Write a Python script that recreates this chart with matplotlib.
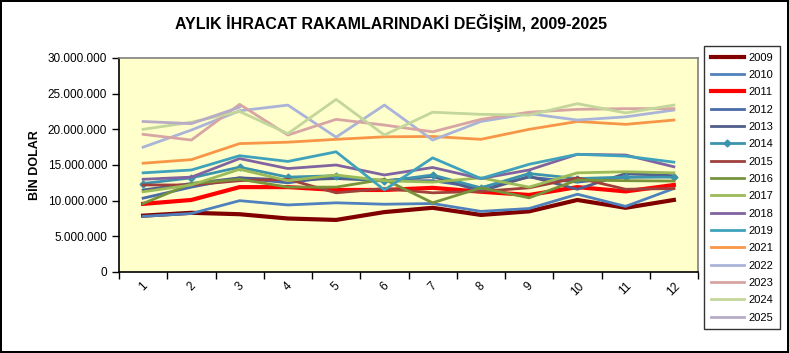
import matplotlib
matplotlib.use("Agg")
import matplotlib.pyplot as plt
from matplotlib.ticker import FuncFormatter, FixedLocator

plt.rcParams['font.family'] = ['Liberation Sans', 'DejaVu Sans']

months = list(range(1, 13))
month_labels = [str(m) for m in months]

y2009 = [7.9, 8.3, 8.1, 7.5, 7.3, 8.4, 9.0, 8.0, 8.5, 10.1, 9.0, 10.1]
y2010 = [7.8, 8.2, 10.0, 9.4, 9.7, 9.5, 9.6, 8.5, 8.9, 10.9, 9.2, 11.7]
y2011 = [9.55, 10.1, 11.9, 11.9, 11.5, 11.5, 11.8, 11.25, 10.8, 11.9, 11.3, 12.2]
y2012 = [10.35, 11.9, 13.2, 12.5, 13.4, 12.8, 12.8, 11.8, 13.3, 12.6, 13.3, 13.4]
y2013 = [11.5, 12.4, 13.2, 12.9, 13.1, 12.8, 13.4, 11.3, 13.4, 11.6, 13.8, 13.5]
y2014 = [12.4, 13.2, 14.7, 13.3, 13.5, 12.7, 13.6, 11.8, 13.8, 13.1, 13.3, 13.3]
y2015 = [12.2, 12.2, 12.8, 13.0, 11.1, 11.7, 11.1, 11.3, 11.8, 13.2, 11.6, 11.7]
y2016 = [9.6, 12.4, 13.0, 11.9, 11.9, 13.0, 9.7, 11.8, 10.4, 12.9, 12.8, 12.75]
y2017 = [11.25, 12.2, 14.4, 12.8, 13.6, 12.8, 12.6, 13.2, 11.9, 13.9, 14.05, 13.9]
y2018 = [13.0, 13.3, 15.9, 14.5, 15.0, 13.6, 14.65, 13.1, 14.3, 16.5, 16.4, 14.75]
y2019 = [13.9, 14.3, 16.3, 15.5, 16.85, 11.5, 16.0, 13.1, 15.1, 16.5, 16.25, 15.4]
y2021 = [15.25, 15.75, 18.0, 18.2, 18.6, 18.95, 19.0, 18.6, 20.0, 21.1, 20.7, 21.3]
y2022 = [17.5, 19.9, 22.6, 23.4, 18.9, 23.4, 18.5, 21.1, 22.2, 21.3, 21.75, 22.7]
y2023 = [19.3, 18.5, 23.5, 19.2, 21.4, 20.6, 19.65, 21.4, 22.4, 22.8, 22.9, 22.9]
y2024 = [20.0, 21.0, 22.5, 19.4, 24.2, 19.2, 22.4, 22.1, 22.0, 23.6, 22.3, 23.4]
y2025 = [21.1, 20.8, 23.1]

series = [
    ("2009", y2009, "#800000", 3.0),
    ("2010", y2010, "#4F81BD", 2.0),
    ("2011", y2011, "#FF0000", 3.0),
    ("2012", y2012, "#4A6AA8", 2.0),
    ("2013", y2013, "#525E8C", 2.0),
    ("2014", y2014, "#3C93AD", 2.0),
    ("2015", y2015, "#A0403C", 2.0),
    ("2016", y2016, "#77933C", 2.0),
    ("2017", y2017, "#9BBB59", 2.0),
    ("2018", y2018, "#8064A2", 2.0),
    ("2019", y2019, "#3FA2BC", 2.0),
    ("2021", y2021, "#F79646", 2.0),
    ("2022", y2022, "#A9B4D8", 2.0),
    ("2023", y2023, "#D7A5A4", 2.0),
    ("2024", y2024, "#C3D69B", 2.0),
    ("2025", y2025, "#B7ABC8", 2.0),
]

fig = plt.figure(figsize=(7.89, 3.53), dpi=100)
fig.patch.set_facecolor("white")
fig.patch.set_edgecolor("black")
fig.patch.set_linewidth(1.5)

ax = fig.add_axes([119/789, 1 - 272/353, (698-119)/789, (272-58)/353])
ax.set_facecolor("#FFFFCC")

for name, vals, color, lw in series:
    xs = months[:len(vals)]
    ys = [v * 1e6 for v in vals]
    if name == "2014":
        ax.plot(xs, ys, color=color, lw=lw, marker="D", markersize=3.5,
                markerfacecolor=color, markeredgecolor=color, label=name)
    else:
        ax.plot(xs, ys, color=color, lw=lw, label=name, solid_joinstyle="round")

ax.set_xlim(0.5, 12.5)
ax.set_ylim(0, 30e6)
ax.yaxis.set_major_locator(FixedLocator([i * 5e6 for i in range(7)]))
ax.yaxis.set_major_formatter(FuncFormatter(lambda v, p: f"{int(v):,}".replace(",", ".")))
ax.set_xticks(months)
ax.set_xticklabels(month_labels, rotation=45, fontsize=8.5)
ax.xaxis.set_minor_locator(FixedLocator([m + 0.5 for m in range(0, 13)]))
ax.tick_params(axis="x", which="major", length=0, pad=6)
ax.tick_params(axis="x", which="minor", length=5, width=1, direction="out")
ax.tick_params(axis="y", length=5, width=1, direction="out", labelsize=8.5)

for s in ["top", "right"]:
    ax.spines[s].set_color("#808080")
    ax.spines[s].set_linewidth(1.2)
for s in ["left", "bottom"]:
    ax.spines[s].set_color("black")
    ax.spines[s].set_linewidth(1.2)

ax.set_ylabel("BİN DOLAR", fontsize=9, fontweight="bold", labelpad=5)

fig.text(391/789, 1 - 23/353, "AYLIK İHRACAT RAKAMLARINDAKİ DEĞİŞİM, 2009-2025",
         ha="center", va="center", fontsize=11.5, fontweight="bold")

leg = fig.legend(loc="upper left", bbox_to_anchor=(704/789, 1 - 46/353),
                 borderaxespad=0.0,
                 frameon=True, fontsize=8, handlelength=3.0, labelspacing=0.66,
                 borderpad=0.6, handletextpad=0.4, fancybox=False)
leg.get_frame().set_edgecolor("black")
leg.get_frame().set_linewidth(1.0)

fig.savefig("out.png", dpi=100)
